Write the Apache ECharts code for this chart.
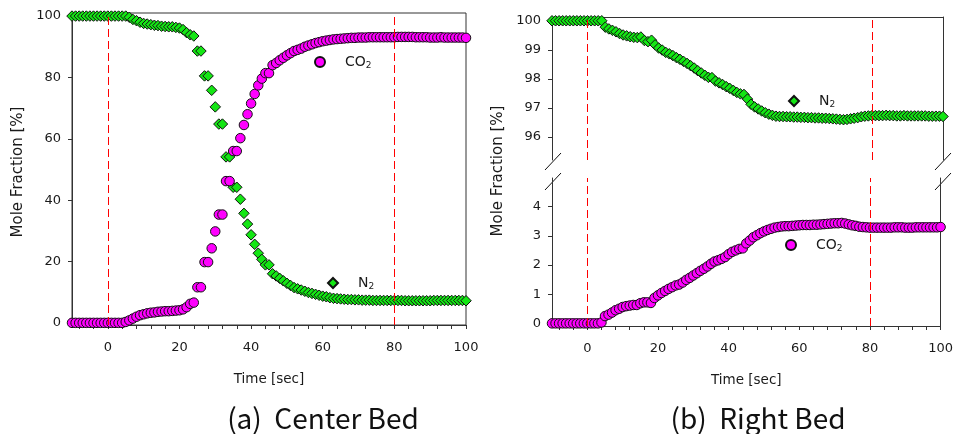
<!DOCTYPE html>
<html><head><meta charset="utf-8">
<script src="https://cdn.jsdelivr.net/npm/echarts@6/dist/echarts.min.js"></script>
<style>html,body{margin:0;padding:0;background:#fff}#c{width:956px;height:434px}</style>
</head><body><div id="c"></div>
<script>
// sample times [sec]
const time = [-10,-9,-8,-7,-6,-5,-4,-3,-2,-1,0,1,2,3,4,5,6,7,8,9,10,11,12,13,14,15,16,17,18,19,20,
21,22,23,24,25,26,27,28,29,30,31,32,33,34,35,36,37,38,39,40,41,42,43,44,45,46,47,48,49,50,
51,52,53,54,55,56,57,58,59,60,61,62,63,64,65,66,67,68,69,70,71,72,73,74,75,76,77,78,79,80,
81,82,83,84,85,86,87,88,89,90,91,92,93,94,95,96,97,98,99,100];

// (a) Center Bed
const co2Center = [0,0,0,0,0,0,0,0,0,0,0,0,0,0,0,
0.3,0.8,1.4,2.0,2.5,2.8,3.1,3.3,3.4,3.6,3.7,3.8,3.8,3.9,4.0,4.1,4.4,5.1,6.2,6.6,
11.6,11.6,19.8,19.8,24.3,29.8,35.3,35.3,46.2,46.2,56.0,56.0,60.2,64.5,68.0,71.5,74.6,77.4,79.6,81.4,81.4,
84.0,84.7,85.6,86.4,87.2,87.9,88.6,89.0,89.4,90.0,90.4,90.8,91.2,91.5,91.8,92.0,92.2,92.4,92.5,92.6,
92.7,92.8,92.9,92.9,93.0,93.0,93.0,93.1,93.1,93.1,93.1,93.1,93.1,93.1,93.1,
93.2,93.2,93.2,93.2,93.2,93.1,93.1,93.1,93.1,93.0,93.0,93.0,93.1,93.0,93.0,93.0,93.0,93.0,93.0,92.9];
const n2Center = [100,100,100,100,100,100,100,100,100,100,100,100,100,100,100,100,
99.6,98.9,98.5,98.0,97.6,97.4,97.2,97.0,96.9,96.7,96.6,96.5,96.5,96.3,96.1,95.6,94.6,93.9,93.5,
88.6,88.6,80.5,80.5,75.8,70.4,64.8,64.8,54.1,54.1,44.2,44.2,40.3,35.7,32.2,28.7,25.6,22.7,20.7,18.9,18.9,
16.0,15.3,14.5,13.7,12.9,12.2,11.5,11.1,10.7,10.3,9.9,9.6,9.3,9.0,8.7,8.5,8.2,8.0,7.9,7.8,
7.7,7.6,7.6,7.5,7.5,7.4,7.4,7.4,7.3,7.3,7.3,7.3,7.3,7.3,7.3,
7.3,7.3,7.2,7.2,7.2,7.2,7.2,7.2,7.2,7.2,7.3,7.3,7.3,7.3,7.3,7.3,7.3,7.3,7.3,7.2];

// (b) Right Bed
const n2Right = [100,100,100,100,100,100,100,100,100,100,100,100,100,100,100,
99.78,99.72,99.67,99.62,99.56,99.51,99.48,99.45,99.43,99.42,99.44,99.32,99.28,99.33,99.17,99.06,
98.99,98.91,98.86,98.80,98.73,98.67,98.60,98.53,98.45,98.37,98.28,98.20,98.12,98.05,98.04,
97.92,97.86,97.80,97.73,97.67,97.60,97.53,97.48,97.46,97.30,97.12,97.03,96.96,96.89,96.83,
96.78,96.74,96.71,96.70,96.70,96.69,96.69,96.68,96.68,96.67,96.67,96.66,96.66,96.65,96.65,
96.64,96.64,96.63,96.62,96.61,96.60,96.59,96.60,96.62,96.64,96.66,96.69,96.71,96.72,96.73,
96.73,96.73,96.73,96.74,96.73,96.73,96.72,96.72,96.73,96.72,96.72,96.72,96.72,96.72,96.72,96.71,96.71,96.71,96.71,96.70];
const co2Right = [0,0,0,0,0,0,0,0,0,0,0,0,0,0,
0.03,0.25,0.30,0.37,0.45,0.50,0.56,0.59,0.61,0.63,0.63,0.69,0.72,0.72,0.70,0.87,0.96,
1.04,1.11,1.18,1.24,1.30,1.33,1.40,1.49,1.56,1.64,1.72,1.80,1.87,1.95,2.04,
2.12,2.16,2.21,2.27,2.37,2.45,2.50,2.55,2.57,2.74,2.84,2.95,3.02,3.09,3.15,
3.20,3.24,3.28,3.30,3.32,3.33,3.33,3.34,3.35,3.36,3.37,3.37,3.37,3.38,3.38,
3.39,3.40,3.41,3.42,3.43,3.43,3.44,3.42,3.39,3.36,3.34,3.31,3.30,3.29,3.28,
3.28,3.28,3.28,3.28,3.28,3.28,3.29,3.29,3.29,3.28,3.28,3.28,3.29,3.29,3.29,3.29,3.29,3.29,3.29,3.30];

const cycleMarks = [0, 80];
const xLabelValues = [0, 20, 40, 60, 80, 100];
const xTickValues = [-8,-4,0,4,8,12,16,20,24,28,32,36,40,44,48,52,56,60,64,68,72,76,80,84,88,92,96,100];
const yLabelsCenter = [0, 20, 40, 60, 80, 100];
const yLabelsUpper = [96, 97, 98, 99, 100];
const yLabelsLower = [0, 1, 2, 3, 4];
const legendLabels = { co2c: 'CO', n2c: 'N', co2r: 'CO', n2r: 'N' };

const FONT = 'DejaVu Sans';
const AX = '#333';
const TXT = '#1a1a1a';
const MAGENTA = '#ff00ff';
const GREEN = '#14e614';

const pairs = (arr) => time.map((t, i) => [t, arr[i]]);

function xAxisCfg(grid, withLabels, pos) {
  return {
    type: 'value', gridIndex: grid, min: -10, max: 100, position: pos || 'bottom',
    axisLine: { show: true, onZero: false, lineStyle: { color: AX, width: 1 } },
    axisTick: withLabels ? { show: true, inside: false, length: 4, customValues: xTickValues, lineStyle: { color: AX } } : { show: false },
    axisLabel: withLabels ? { show: true, customValues: xLabelValues, margin: 16, fontFamily: FONT, fontSize: 13, color: TXT } : { show: false },
    splitLine: { show: false },
    name: withLabels ? 'Time [sec]' : '', nameLocation: 'middle', nameGap: 47,
    nameTextStyle: { fontFamily: FONT, fontSize: 13.5, color: TXT }
  };
}
function yAxisCfg(grid, min, max, labels, pos) {
  const has = !!labels;
  return {
    type: 'value', gridIndex: grid, min: min, max: max, position: pos || 'left',
    axisLine: { show: true, onZero: false, lineStyle: { color: AX, width: 1 } },
    axisTick: has ? { show: true, inside: false, length: 4, customValues: labels, lineStyle: { color: AX } } : { show: false },
    axisLabel: has ? { show: true, customValues: labels, margin: 11, fontFamily: FONT, fontSize: 13, color: TXT } : { show: false },
    splitLine: { show: false }
  };
}
const markLineCfg = {
  silent: true, symbol: ['none', 'none'], animation: false,
  label: { show: false },
  lineStyle: { color: '#ff0000', type: [8, 4], width: 1 },
  data: cycleMarks.map(v => ({ xAxis: v }))
};
function scatter(name, arr, xi, yi, isDiamond, withMark) {
  const s = {
    type: 'scatter', name: name, xAxisIndex: xi, yAxisIndex: yi, data: pairs(arr),
    symbol: isDiamond ? 'diamond' : 'circle', symbolSize: isDiamond ? 10.5 : 9.5,
    itemStyle: { color: isDiamond ? GREEN : MAGENTA, borderColor: '#111', borderWidth: 1, opacity: 1 },
    emphasis: { disabled: true }, animation: false
  };
  if (withMark) s.markLine = markLineCfg;
  return s;
}
function legendCfg(name, left, top) {
  return {
    data: [name], left: left, top: top, padding: 0, itemWidth: 10, itemHeight: 10,
    selectedMode: false,
    formatter: (n) => '{g|\u00a0}{n|' + legendLabels[n] + '}{s|2}',
    textStyle: {
      fontFamily: FONT, fontSize: 14, color: TXT,
      rich: {
        g: { width: 15, fontSize: 14 },
        n: { fontFamily: FONT, fontSize: 14, color: TXT },
        s: { fontFamily: FONT, fontSize: 9, color: TXT, padding: [7, 0, 0, 0] }
      }
    }
  };
}

const chart = echarts.init(document.getElementById('c'), null, { renderer: 'canvas' });
chart.setOption({
  animation: false,
  backgroundColor: '#fff',
  grid: [
    { left: 72, top: 13, width: 394, height: 312, show: true, borderColor: AX, borderWidth: 1 },
    { left: 552, top: 17, width: 391, height: 143 },
    { left: 552, top: 178, width: 391, height: 148 }
  ],
  xAxis: [
    xAxisCfg(0, true),
    xAxisCfg(1, false, 'top'),
    xAxisCfg(2, true)
  ],
  yAxis: [
    yAxisCfg(0, -0.7, 101, yLabelsCenter),
    yAxisCfg(1, 95.2, 100.13, yLabelsUpper),
    yAxisCfg(1, 95.2, 100.13, null, 'right'),
    yAxisCfg(2, -0.09, 4.98, yLabelsLower),
    yAxisCfg(2, -0.09, 4.98, null, 'right')
  ],
  legend: [
    legendCfg('co2c', 314, 55),
    legendCfg('n2c', 327, 276),
    legendCfg('n2r', 788, 94),
    legendCfg('co2r', 785, 238)
  ],
  series: [
    scatter('n2c', n2Center, 0, 0, true, true),
    scatter('co2c', co2Center, 0, 0, false, false),
    scatter('n2r', n2Right, 1, 1, true, true),
    scatter('co2r', co2Right, 2, 3, false, true)
  ],
  graphic: [
    { type: 'text', x: 18.5, y: 172, rotation: Math.PI / 2,
      style: { text: 'Mole Fraction [%]', fontFamily: FONT, fontSize: 15, fill: TXT, align: 'center', verticalAlign: 'middle', textAlign: 'center', textVerticalAlign: 'middle' } },
    { type: 'text', x: 498, y: 171, rotation: Math.PI / 2,
      style: { text: 'Mole Fraction [%]', fontFamily: FONT, fontSize: 15, fill: TXT, align: 'center', verticalAlign: 'middle', textAlign: 'center', textVerticalAlign: 'middle' } },
    { type: 'text', x: 323, y: 418,
      style: { text: '(a)  Center Bed', fontFamily: 'Noto Sans CJK KR', fontSize: 28, fill: '#111', align: 'center', verticalAlign: 'middle', textAlign: 'center', textVerticalAlign: 'middle' } },
    { type: 'text', x: 758, y: 418,
      style: { text: '(b)  Right Bed', fontFamily: 'Noto Sans CJK KR', fontSize: 28, fill: '#111', align: 'center', verticalAlign: 'middle', textAlign: 'center', textVerticalAlign: 'middle' } },
    { type: 'line', shape: { x1: 545, y1: 170, x2: 561, y2: 153 }, style: { stroke: '#111', lineWidth: 1 } },
    { type: 'line', shape: { x1: 545, y1: 190, x2: 561, y2: 173 }, style: { stroke: '#111', lineWidth: 1 } },
    { type: 'line', shape: { x1: 935, y1: 170, x2: 951, y2: 153 }, style: { stroke: '#111', lineWidth: 1 } },
    { type: 'line', shape: { x1: 935, y1: 190, x2: 951, y2: 173 }, style: { stroke: '#111', lineWidth: 1 } }
  ]
});
</script></body></html>
